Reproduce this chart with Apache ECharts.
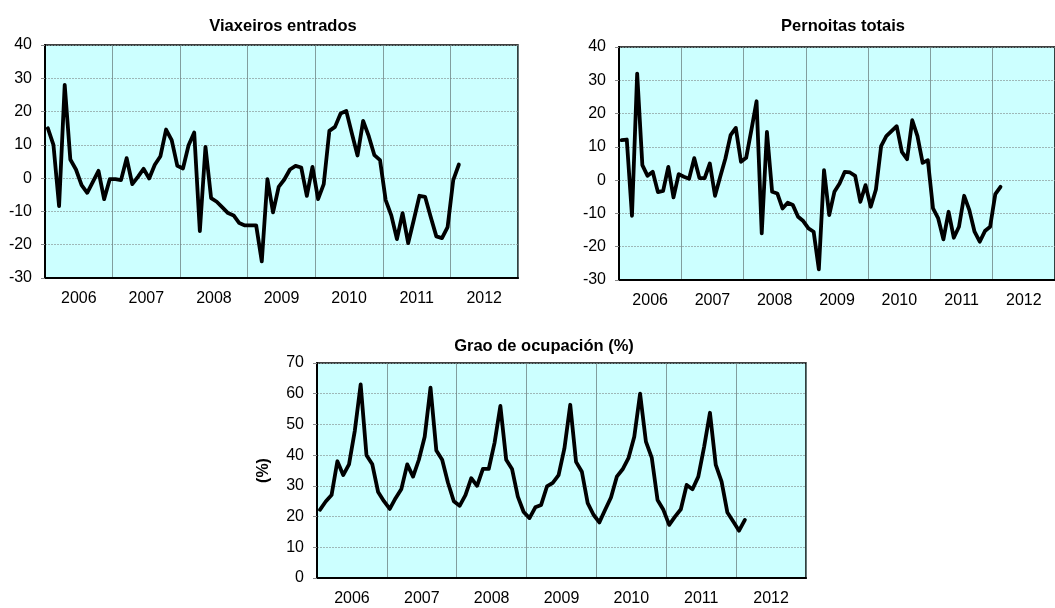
<!DOCTYPE html>
<html>
<head>
<meta charset="utf-8">
<script src="https://cdn.jsdelivr.net/npm/echarts@6/dist/echarts.min.js"></script>
<style>
html,body{margin:0;padding:0;background:#fff;}
#c{width:1055px;height:608px;}
</style>
</head>
<body>
<div id="c"></div>
<script>
// ---- data ----
var years = ['2006','2007','2008','2009','2010','2011','2012'];
var titles = ['Viaxeiros entrados','Pernoitas totais','Grao de ocupación (%)'];
var viaxeiros = [15,10,-8.4,28,5.6,2.6,-2.1,-4.4,-1.1,2.2,-6.3,-0.3,
  -0.3,-0.6,6,-1.8,0.4,2.8,-0.1,4,6.6,14.6,11.4,3.7,
  2.9,9.9,13.7,-15.9,9.4,-6,-7.1,-8.8,-10.5,-11.2,-13.5,-14.2,
  -14.2,-14.2,-25,-0.3,-10.3,-2.6,-0.4,2.6,3.7,3.2,-5.3,3.4,
  -6.3,-1.8,14.2,15.4,19.4,20.2,13.4,6.8,17.2,12.6,6.9,5.4,
  -6.6,-11.2,-18.3,-10.5,-19.5,-12.5,-5.3,-5.6,-11.7,-17.5,-18,-14.7,
  -0.6,4.1];
var pernoitas = [12,12.2,-10.7,32,4.5,1.3,2.5,-3.6,-3.2,4,-5.2,1.8,
  1,0.4,6.6,0.6,0.6,5,-4.7,1,6.5,13.5,15.7,5.5,
  6.7,15,23.7,-16,14.5,-3.5,-4,-8.5,-6.8,-7.5,-11,-12.3,
  -14.5,-15.5,-26.8,3,-10.5,-3.5,-1,2.5,2.3,1.3,-6.5,-1.5,
  -8,-2.8,10.2,13.2,14.7,16.2,8.5,6.3,18,13.2,5.2,6,
  -8.5,-11.5,-17.8,-9.5,-17.3,-14,-4.7,-9,-15.5,-18.5,-15.3,-14,
  -4.2,-2];
var ocupacion = [22.2,24.9,27,38,33.5,37,48,63,40,37,28,25,
  22.5,26,29,37,33,38.5,46,62,41.5,38.5,31,25,
  23.5,27,32.5,30,35.5,35.5,44,56,38.5,35.5,26.5,21.5,
  19.5,23,23.8,29.8,31,33.5,42.2,56.4,37.8,34.6,24.4,20.6,
  18.1,22.2,26.2,33,35.4,39,46,60,44.4,39.2,25.4,22.2,
  17.3,20,22.4,30.3,28.9,33,42.7,53.8,36.8,31.4,21.3,18.4,
  15.4,18.9];
var yTicks1 = {min:-30, max:40, interval:10};
var yTicks3 = {min:0, max:70, interval:10};

// month categories built from years (12 per year)
var months = [];
years.forEach(function(y){ for (var m=1;m<=12;m++){ months.push(y+'-'+(m<10?'0':'')+m); } });

var FONT = 'Liberation Sans, Arial, sans-serif';
var grids = [
  {left:45, top:45, width:473, height:233},
  {left:619, top:47, width:443, height:233},
  {left:317, top:363, width:489, height:215}
];
var yCfg = [yTicks1, yTicks1, yTicks3];
var dataSets = [viaxeiros, pernoitas, ocupacion];

var option = {
  animation:false,
  backgroundColor:'#fff',
  title: [
    {text:titles[0], left:278, top:13, textAlign:'center'},
    {text:titles[1], left:838, top:13, textAlign:'center'},
    {text:titles[2], left:539, top:333, textAlign:'center'}
  ].map(function(t){ t.textStyle={fontFamily:FONT,fontSize:16.5,fontWeight:'bold',color:'#000'}; return t; }),
  grid: grids.map(function(g){ return Object.assign({show:true, backgroundColor:'#CCFFFF', borderColor:'#000', borderWidth:1.5, containLabel:false}, g); }),
  xAxis: [],
  yAxis: [],
  series: []
};

for (var i=0;i<3;i++){
  option.xAxis.push({
    type:'category', gridIndex:i, data:months, boundaryGap:true, show:false
  });
  option.xAxis.push({
    type:'category', gridIndex:i, data:years, boundaryGap:true, position:'bottom',
    axisLine:{show:true, lineStyle:{color:'#000', width:2}},
    axisTick:{show:false},
    axisLabel:{fontFamily:FONT, fontSize:16, color:'#000', margin:13},
    splitLine:{show:true, lineStyle:{color:'#6f8585', width:0.8}}
  });
  var yc = {
    type:'value', gridIndex:i, min:yCfg[i].min, max:yCfg[i].max, interval:yCfg[i].interval,
    axisLine:{show:true, lineStyle:{color:'#000', width:2}},
    axisTick:{show:true, length:4, lineStyle:{color:'#888', width:1}},
    axisLabel:{fontFamily:FONT, fontSize:16, color:'#000', margin:13},
    splitLine:{show:true, lineStyle:{color:'#8a9a9a', width:0.7, type:[2,1]}}
  };
  if (i===2){
    yc.name='(%)'; yc.nameLocation='middle'; yc.nameGap=45; yc.nameRotate=90;
    yc.nameTextStyle={fontFamily:FONT, fontSize:16, fontWeight:'bold', color:'#000'};
  }
  option.yAxis.push(yc);
  option.series.push({
    type:'line', xAxisIndex:i*2, yAxisIndex:i, data:dataSets[i],
    symbol:'none', smooth:false,
    lineStyle:{color:'#000', width:3.8, join:'round', cap:'round'}
  });
}

var chart = echarts.init(document.getElementById('c'), null, {renderer:'canvas'});
chart.setOption(option);
</script>
</body>
</html>
